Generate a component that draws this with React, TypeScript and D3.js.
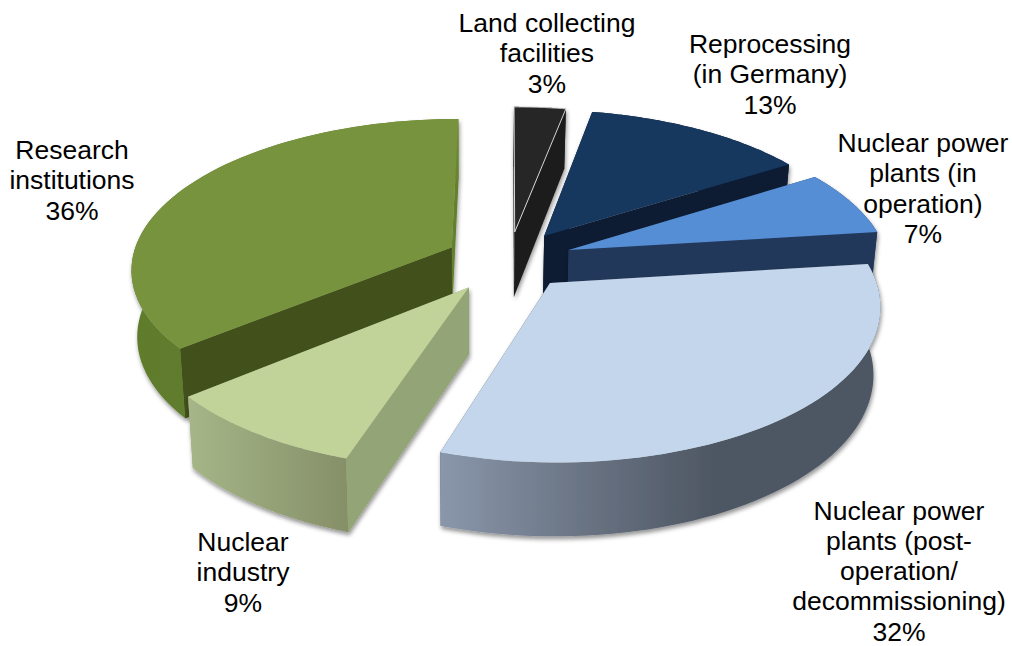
import React from "react";
import * as d3 from "d3";

// Share of waste volume by origin, clockwise from twelve o'clock.
const labels: string[][] = [
  ["Land collecting", "facilities"],
  ["Reprocessing", "(in Germany)"],
  ["Nuclear power", "plants (in", "operation)"],
  ["Nuclear power", "plants (post-", "operation/", "decommissioning)"],
  ["Nuclear", "industry"],
  ["Research", "institutions"],
];
const shares = [3, 13, 7, 32, 9, 36];
const explodeBy = [62, 64, 64, 63, 70, 64];
const topColors = ["#262626", "#17375e", "#558ed5", "#c3d6ec", "#c2d39a", "#77933c"];
const cutColors = ["#1d1d1d", "#0a1c33", "#24385a", "#4e5763", "#93a476", "#43511f"];
const rimStops = [
  ["#1d1d1d", "#1d1d1d"],
  ["#0a1c33", "#0a1c33"],
  ["#24385a", "#24385a"],
  ["#8a97ab", "#4e5763"],
  ["#a6b688", "#858f68"],
  ["#5f7b2c", "#688632"],
];
const labelAnchors: [number, number][] = [
  [547, 32],
  [770, 53],
  [923, 152],
  [899, 519.5],
  [243, 551],
  [72, 159],
];

const WIDTH = 1012;
const HEIGHT = 646;
const CX = 509;
const CY = 260;
const FLOOR_CX = 469;
const RADIUS = 320;
const TILT = 0.465;
const VIEW_DIST = 2400;
const THICKNESS = 66;
const FLOOR_SCALE_X = 0.983;
const FLOOR_SCALE_Y = 0.98;
const FONT_SIZE = 26.5;
const LINE_HEIGHT = 30.3;

type Pt = [number, number];

// Perspective projection of a point on the pie's ground plane.
const project = (u: number, v: number, floor: boolean): Pt => {
  const f = VIEW_DIST / (VIEW_DIST - v);
  const x = CX + u * f;
  const y = TILT * v * f;
  return floor
    ? [FLOOR_CX + (x - FLOOR_CX) * FLOOR_SCALE_X, CY + y * FLOOR_SCALE_Y + THICKNESS * f]
    : [x, CY + y];
};

const arcs = d3.pie<number>().sort(null).startAngle(0).endAngle(2 * Math.PI)(shares);

const toPath = d3.line<Pt>().curve(d3.curveLinear);

function App() {
  const faces = arcs.map((a) => {
    const mid = (a.startAngle + a.endAngle) / 2;
    const ox = explodeBy[a.index] * Math.sin(mid);
    const oy = -explodeBy[a.index] * Math.cos(mid);
    const rim = (t: number, floor: boolean) =>
      project(ox + RADIUS * Math.sin(t), oy - RADIUS * Math.cos(t), floor);
    const steps = d3.range(0, 61).map((i) => a.startAngle + ((a.endAngle - a.startAngle) * i) / 60);
    const topRim = steps.map((t) => rim(t, false));
    const floorRim = steps.map((t) => rim(t, true));
    const apex = project(ox, oy, false);
    const apexFloor = project(ox, oy, true);
    return {
      index: a.index,
      top: toPath([apex, ...topRim])! + "Z",
      outer: toPath([...topRim, ...[...floorRim].reverse()])! + "Z",
      cutStart: toPath([apex, topRim[0], floorRim[0], apexFloor])! + "Z",
      cutEnd: toPath([apex, topRim[60], floorRim[60], apexFloor])! + "Z",
    };
  });

  // Back slices are painted first so the nearer ones overlap them.
  const paintOrder = [0, 5, 1, 2, 4, 3];

  return (
    <svg
      width={WIDTH}
      height={HEIGHT}
      style={{ position: "absolute", left: 0, top: 0, display: "block", background: "#fff" }}
    >
      <defs>
        <filter id="soft" x="-10%" y="-10%" width="125%" height="125%">
          <feDropShadow dx="1" dy="3" stdDeviation="2.2" floodColor="#000" floodOpacity="0.42" />
        </filter>
        {rimStops.map((stops, i) => (
          <linearGradient key={i} id={`rim${i}`}>
            <stop offset="0" stopColor={stops[0]} />
            {i === 3 && <stop offset="0.3" stopColor="#6c7686" />}
            <stop offset={i === 3 ? 0.62 : 1} stopColor={stops[1]} />
            {i === 3 && <stop offset="1" stopColor={stops[1]} />}
          </linearGradient>
        ))}
      </defs>
      {paintOrder.map((i) => {
        const face = faces[i];
        return (
          <g key={i} filter="url(#soft)">
            <path d={face.cutStart} fill={cutColors[i]} />
            <path d={face.cutEnd} fill={i === 5 ? "#62802f" : cutColors[i]} />
            <path d={face.outer} fill={`url(#rim${i})`} />
            {/* Rebuild the near cut face over the rim where they share an edge. */}
            {(i === 4 || i === 5) && <path d={face.cutStart} fill={cutColors[i]} />}
            <path
              d={face.top}
              fill={topColors[i]}
              stroke={i === 0 ? "#d4d4d4" : "none"}
              strokeWidth={i === 0 ? 1 : 0}
            />
          </g>
        );
      })}
      <g fontFamily="'Liberation Sans', Arial, sans-serif" fontSize={FONT_SIZE} fill="#000" textAnchor="middle">
        {labels.map((lines, i) => (
          <text key={i} x={labelAnchors[i][0]} y={labelAnchors[i][1]}>
            {[...lines, `${shares[i]}%`].map((line, j) => (
              <tspan key={j} x={labelAnchors[i][0]} y={labelAnchors[i][1] + j * LINE_HEIGHT}>
                {line}
              </tspan>
            ))}
          </text>
        ))}
      </g>
    </svg>
  );
}

export default App;
